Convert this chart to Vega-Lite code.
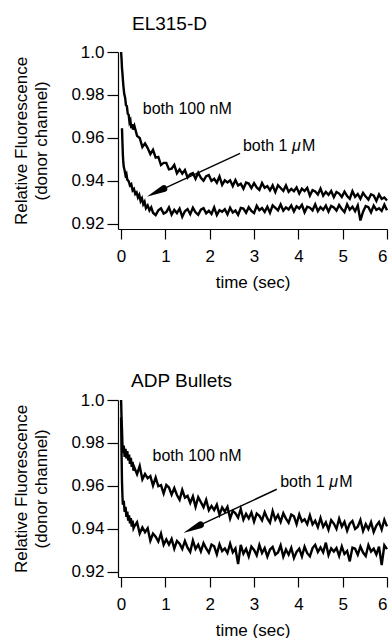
{
  "$schema": "https://vega.github.io/schema/vega-lite/v6.json",
  "padding": {"left": 12, "top": 15, "right": 0, "bottom": 0},
  "background": "white",
  "config": {
    "font": "Liberation Sans",
    "view": {"stroke": null},
    "axis": {"grid": false, "domainColor": "black", "tickColor": "black", "labelColor": "black", "titleColor": "black", "labelFontSize": 17, "titleFontSize": 17, "titleFontWeight": "normal", "domainWidth": 1.2, "tickWidth": 1.2},
    "title": {"fontSize": 19, "fontWeight": "normal", "color": "black", "anchor": "start", "frame": "group"}
  },
  "spacing": 82,
  "datasets": {
    "a_h": [
      {"t":0,"v":1.0},{"t":0.01,"v":0.9968},{"t":0.02,"v":0.9925},{"t":0.03,"v":0.9902},{"t":0.05,"v":0.9846},{"t":0.07,"v":0.9805},{"t":0.09,"v":0.9788},{"t":0.11,"v":0.9752},{"t":0.13,"v":0.9748},{"t":0.15,"v":0.9712},{"t":0.17,"v":0.9708},{"t":0.19,"v":0.9672},{"t":0.21,"v":0.9681},{"t":0.23,"v":0.9645},{"t":0.25,"v":0.9663},{"t":0.27,"v":0.9638},
      {"t":0.30,"v":0.9656},{"t":0.36,"v":0.9609},{"t":0.42,"v":0.9599},{"t":0.48,"v":0.9557},{"t":0.54,"v":0.9574},{"t":0.60,"v":0.9552},{"t":0.66,"v":0.9524},{"t":0.72,"v":0.9544},{"t":0.78,"v":0.9508},{"t":0.84,"v":0.9511},
      {"t":0.90,"v":0.9473},{"t":0.96,"v":0.9483},{"t":1.02,"v":0.9483},{"t":1.08,"v":0.9453},{"t":1.14,"v":0.9456},{"t":1.20,"v":0.9474},{"t":1.26,"v":0.9435},{"t":1.32,"v":0.9453},{"t":1.38,"v":0.9433},{"t":1.44,"v":0.9450},
      {"t":1.50,"v":0.9415},{"t":1.56,"v":0.9430},{"t":1.62,"v":0.9436},{"t":1.68,"v":0.9409},{"t":1.74,"v":0.9437},{"t":1.80,"v":0.9414},{"t":1.86,"v":0.9400},{"t":1.92,"v":0.9421},{"t":1.98,"v":0.9426},{"t":2.04,"v":0.9399},
      {"t":2.10,"v":0.9409},{"t":2.16,"v":0.9391},{"t":2.22,"v":0.9420},{"t":2.28,"v":0.9381},{"t":2.34,"v":0.9402},{"t":2.40,"v":0.9392},{"t":2.46,"v":0.9402},{"t":2.52,"v":0.9375},{"t":2.58,"v":0.9403},{"t":2.64,"v":0.9378},
      {"t":2.70,"v":0.9386},{"t":2.76,"v":0.9363},{"t":2.82,"v":0.9392},{"t":2.88,"v":0.9387},{"t":2.94,"v":0.9366},{"t":3.00,"v":0.9389},{"t":3.06,"v":0.9369},{"t":3.12,"v":0.9357},{"t":3.18,"v":0.9389},{"t":3.24,"v":0.9367},
      {"t":3.30,"v":0.9375},{"t":3.36,"v":0.9355},{"t":3.42,"v":0.9378},{"t":3.48,"v":0.9347},{"t":3.54,"v":0.9379},{"t":3.60,"v":0.9366},{"t":3.66,"v":0.9353},{"t":3.72,"v":0.9378},{"t":3.78,"v":0.9348},{"t":3.84,"v":0.9362},
      {"t":3.90,"v":0.9351},{"t":3.96,"v":0.9369},{"t":4.02,"v":0.9340},{"t":4.08,"v":0.9363},{"t":4.14,"v":0.9352},{"t":4.20,"v":0.9367},{"t":4.26,"v":0.9331},{"t":4.32,"v":0.9356},{"t":4.38,"v":0.9350},{"t":4.44,"v":0.9336},
      {"t":4.50,"v":0.9363},{"t":4.56,"v":0.9330},{"t":4.62,"v":0.9348},{"t":4.68,"v":0.9334},{"t":4.74,"v":0.9352},{"t":4.80,"v":0.9323},{"t":4.86,"v":0.9348},{"t":4.92,"v":0.9340},{"t":4.98,"v":0.9324},{"t":5.04,"v":0.9349},
      {"t":5.10,"v":0.9329},{"t":5.16,"v":0.9316},{"t":5.22,"v":0.9351},{"t":5.28,"v":0.9325},{"t":5.34,"v":0.9338},{"t":5.40,"v":0.9316},{"t":5.46,"v":0.9343},{"t":5.52,"v":0.9326},{"t":5.58,"v":0.9312},{"t":5.64,"v":0.9337},
      {"t":5.70,"v":0.9331},{"t":5.76,"v":0.9306},{"t":5.82,"v":0.9336},{"t":5.88,"v":0.9315},{"t":5.94,"v":0.9322},{"t":6.00,"v":0.9308}
    ],
    "a_l": [
      {"t":0.02,"v":0.9645},{"t":0.03,"v":0.958},{"t":0.04,"v":0.952},{"t":0.05,"v":0.9485},{"t":0.06,"v":0.9465},{"t":0.08,"v":0.9448},{"t":0.10,"v":0.9425},{"t":0.12,"v":0.9432},{"t":0.14,"v":0.9405},{"t":0.17,"v":0.9398},
      {"t":0.20,"v":0.9378},{"t":0.23,"v":0.9384},{"t":0.26,"v":0.9355},{"t":0.29,"v":0.9362},{"t":0.32,"v":0.9338},{"t":0.35,"v":0.9345},{"t":0.38,"v":0.9322},{"t":0.41,"v":0.9334},{"t":0.44,"v":0.9305},{"t":0.47,"v":0.9318},
      {"t":0.50,"v":0.9290},{"t":0.53,"v":0.9302},{"t":0.56,"v":0.9272},{"t":0.60,"v":0.9285},{"t":0.64,"v":0.9262},{"t":0.68,"v":0.9276},{"t":0.72,"v":0.9251},
      {"t":0.78,"v":0.9240},{"t":0.84,"v":0.9262},{"t":0.90,"v":0.9271},{"t":0.96,"v":0.9247},{"t":1.02,"v":0.9254},{"t":1.08,"v":0.9276},{"t":1.14,"v":0.9242},{"t":1.20,"v":0.9264},{"t":1.26,"v":0.9249},{"t":1.32,"v":0.9270},
      {"t":1.38,"v":0.9232},{"t":1.44,"v":0.9258},{"t":1.50,"v":0.9268},{"t":1.56,"v":0.9244},{"t":1.62,"v":0.9274},{"t":1.68,"v":0.9253},{"t":1.74,"v":0.9241},{"t":1.80,"v":0.9265},{"t":1.86,"v":0.9272},{"t":1.92,"v":0.9248},
      {"t":1.98,"v":0.9260},{"t":2.04,"v":0.9245},{"t":2.10,"v":0.9276},{"t":2.16,"v":0.9240},{"t":2.22,"v":0.9263},{"t":2.28,"v":0.9255},{"t":2.34,"v":0.9267},{"t":2.40,"v":0.9243},{"t":2.46,"v":0.9274},{"t":2.52,"v":0.9252},
      {"t":2.58,"v":0.9261},{"t":2.64,"v":0.9241},{"t":2.70,"v":0.9273},{"t":2.76,"v":0.9270},{"t":2.82,"v":0.9251},{"t":2.88,"v":0.9277},{"t":2.94,"v":0.9259},{"t":3.00,"v":0.9249},{"t":3.06,"v":0.9283},{"t":3.12,"v":0.9263},
      {"t":3.18,"v":0.9273},{"t":3.24,"v":0.9255},{"t":3.30,"v":0.9279},{"t":3.36,"v":0.9251},{"t":3.42,"v":0.9285},{"t":3.48,"v":0.9274},{"t":3.54,"v":0.9262},{"t":3.60,"v":0.9289},{"t":3.66,"v":0.9260},{"t":3.72,"v":0.9276},
      {"t":3.78,"v":0.9266},{"t":3.84,"v":0.9285},{"t":3.90,"v":0.9257},{"t":3.96,"v":0.9281},{"t":4.02,"v":0.9271},{"t":4.08,"v":0.9288},{"t":4.14,"v":0.9253},{"t":4.20,"v":0.9279},{"t":4.26,"v":0.9274},{"t":4.32,"v":0.9262},
      {"t":4.38,"v":0.9290},{"t":4.44,"v":0.9258},{"t":4.50,"v":0.9277},{"t":4.56,"v":0.9264},{"t":4.62,"v":0.9284},{"t":4.68,"v":0.9256},{"t":4.74,"v":0.9282},{"t":4.80,"v":0.9275},{"t":4.86,"v":0.9261},{"t":4.92,"v":0.9287},
      {"t":4.98,"v":0.9268},{"t":5.04,"v":0.9254},{"t":5.10,"v":0.9290},{"t":5.16,"v":0.9265},{"t":5.22,"v":0.9279},{"t":5.28,"v":0.9258},{"t":5.34,"v":0.9285},{"t":5.40,"v":0.9215},{"t":5.46,"v":0.9256},{"t":5.52,"v":0.9282},
      {"t":5.58,"v":0.9277},{"t":5.64,"v":0.9253},{"t":5.70,"v":0.9284},{"t":5.76,"v":0.9264},{"t":5.82,"v":0.9272},{"t":5.88,"v":0.9259},{"t":5.94,"v":0.9288},{"t":6.00,"v":0.9262}
    ],
    "b_h": [
      {"t":0,"v":1.0},{"t":0.01,"v":0.9915},{"t":0.02,"v":0.9862},{"t":0.03,"v":0.9795},{"t":0.04,"v":0.9752},{"t":0.06,"v":0.9788},{"t":0.08,"v":0.9735},{"t":0.10,"v":0.9772},{"t":0.12,"v":0.9728},{"t":0.14,"v":0.9762},
      {"t":0.16,"v":0.9718},{"t":0.18,"v":0.9745},{"t":0.20,"v":0.9702},{"t":0.22,"v":0.9730},{"t":0.24,"v":0.9688},{"t":0.26,"v":0.9712},{"t":0.28,"v":0.9671},
      {"t":0.30,"v":0.9685},{"t":0.36,"v":0.9654},{"t":0.42,"v":0.9692},{"t":0.48,"v":0.9630},{"t":0.54,"v":0.9655},{"t":0.60,"v":0.9635},{"t":0.66,"v":0.9645},{"t":0.72,"v":0.9601},{"t":0.78,"v":0.9639},{"t":0.84,"v":0.9598},
      {"t":0.90,"v":0.9603},{"t":0.96,"v":0.9564},{"t":1.02,"v":0.9604},{"t":1.08,"v":0.9592},{"t":1.14,"v":0.9559},{"t":1.20,"v":0.9590},{"t":1.26,"v":0.9557},{"t":1.32,"v":0.9535},{"t":1.38,"v":0.9581},{"t":1.44,"v":0.9545},
      {"t":1.50,"v":0.9553},{"t":1.56,"v":0.9520},{"t":1.62,"v":0.9551},{"t":1.68,"v":0.9502},{"t":1.74,"v":0.9547},{"t":1.80,"v":0.9524},{"t":1.86,"v":0.9500},{"t":1.92,"v":0.9535},{"t":1.98,"v":0.9486},{"t":2.04,"v":0.9506},
      {"t":2.10,"v":0.9487},{"t":2.16,"v":0.9512},{"t":2.22,"v":0.9466},{"t":2.28,"v":0.9499},{"t":2.34,"v":0.9480},{"t":2.40,"v":0.9502},{"t":2.46,"v":0.9447},{"t":2.52,"v":0.9483},{"t":2.58,"v":0.9472},{"t":2.64,"v":0.9452},
      {"t":2.70,"v":0.9492},{"t":2.76,"v":0.9442},{"t":2.82,"v":0.9469},{"t":2.88,"v":0.9448},{"t":2.94,"v":0.9476},{"t":3.00,"v":0.9433},{"t":3.06,"v":0.9471},{"t":3.12,"v":0.9460},{"t":3.18,"v":0.9439},{"t":3.24,"v":0.9477},
      {"t":3.30,"v":0.9448},{"t":3.36,"v":0.9428},{"t":3.42,"v":0.9482},{"t":3.48,"v":0.9443},{"t":3.54,"v":0.9464},{"t":3.60,"v":0.9432},{"t":3.66,"v":0.9472},{"t":3.72,"v":0.9447},{"t":3.78,"v":0.9428},{"t":3.84,"v":0.9466},
      {"t":3.90,"v":0.9458},{"t":3.96,"v":0.9421},{"t":4.02,"v":0.9467},{"t":4.08,"v":0.9434},{"t":4.14,"v":0.9444},{"t":4.20,"v":0.9421},{"t":4.26,"v":0.9462},{"t":4.32,"v":0.9420},{"t":4.38,"v":0.9437},{"t":4.44,"v":0.9407},
      {"t":4.50,"v":0.9450},{"t":4.56,"v":0.9409},{"t":4.62,"v":0.9430},{"t":4.68,"v":0.9395},{"t":4.74,"v":0.9440},{"t":4.80,"v":0.9424},{"t":4.86,"v":0.9399},{"t":4.92,"v":0.9447},{"t":4.98,"v":0.9410},{"t":5.04,"v":0.9432},
      {"t":5.10,"v":0.9391},{"t":5.16,"v":0.9424},{"t":5.22,"v":0.9436},{"t":5.28,"v":0.9399},{"t":5.34,"v":0.9409},{"t":5.40,"v":0.9441},{"t":5.46,"v":0.9389},{"t":5.52,"v":0.9421},{"t":5.58,"v":0.9398},{"t":5.64,"v":0.9431},
      {"t":5.70,"v":0.9385},{"t":5.76,"v":0.9415},{"t":5.82,"v":0.9431},{"t":5.88,"v":0.9396},{"t":5.94,"v":0.9442},{"t":6.00,"v":0.9411}
    ],
    "b_l": [
      {"t":0,"v":0.992},{"t":0.01,"v":0.975},{"t":0.02,"v":0.962},{"t":0.03,"v":0.9555},{"t":0.04,"v":0.9512},{"t":0.06,"v":0.9530},{"t":0.08,"v":0.9478},{"t":0.10,"v":0.9502},{"t":0.12,"v":0.9455},{"t":0.14,"v":0.9480},
      {"t":0.16,"v":0.9438},{"t":0.18,"v":0.9462},{"t":0.20,"v":0.9425},{"t":0.22,"v":0.9450},{"t":0.24,"v":0.9410},{"t":0.26,"v":0.9438},{"t":0.28,"v":0.9402},
      {"t":0.30,"v":0.9411},{"t":0.36,"v":0.9430},{"t":0.42,"v":0.9378},{"t":0.48,"v":0.9406},{"t":0.54,"v":0.9384},{"t":0.60,"v":0.9402},{"t":0.66,"v":0.9344},{"t":0.72,"v":0.9377},{"t":0.78,"v":0.9363},{"t":0.84,"v":0.9340},
      {"t":0.90,"v":0.9377},{"t":0.96,"v":0.9325},{"t":1.02,"v":0.9350},{"t":1.08,"v":0.9326},{"t":1.14,"v":0.9352},{"t":1.20,"v":0.9307},{"t":1.26,"v":0.9343},{"t":1.32,"v":0.9330},{"t":1.38,"v":0.9306},{"t":1.44,"v":0.9343},
      {"t":1.50,"v":0.9312},{"t":1.56,"v":0.9292},{"t":1.62,"v":0.9345},{"t":1.68,"v":0.9306},{"t":1.74,"v":0.9326},{"t":1.80,"v":0.9294},{"t":1.86,"v":0.9333},{"t":1.92,"v":0.9308},{"t":1.98,"v":0.9288},{"t":2.04,"v":0.9326},
      {"t":2.10,"v":0.9318},{"t":2.16,"v":0.9281},{"t":2.22,"v":0.9327},{"t":2.28,"v":0.9296},{"t":2.34,"v":0.9308},{"t":2.40,"v":0.9287},{"t":2.46,"v":0.9330},{"t":2.52,"v":0.9290},{"t":2.58,"v":0.9308},{"t":2.64,"v":0.9235},
      {"t":2.70,"v":0.9325},{"t":2.76,"v":0.9284},{"t":2.82,"v":0.9306},{"t":2.88,"v":0.9271},{"t":2.94,"v":0.9317},{"t":3.00,"v":0.9301},{"t":3.06,"v":0.9276},{"t":3.12,"v":0.9324},{"t":3.18,"v":0.9287},{"t":3.24,"v":0.9310},
      {"t":3.30,"v":0.9270},{"t":3.36,"v":0.9303},{"t":3.42,"v":0.9315},{"t":3.48,"v":0.9279},{"t":3.54,"v":0.9289},{"t":3.60,"v":0.9322},{"t":3.66,"v":0.9270},{"t":3.72,"v":0.9303},{"t":3.78,"v":0.9279},{"t":3.84,"v":0.9311},
      {"t":3.90,"v":0.9263},{"t":3.96,"v":0.9292},{"t":4.02,"v":0.9307},{"t":4.08,"v":0.9271},{"t":4.14,"v":0.9316},{"t":4.20,"v":0.9286},{"t":4.26,"v":0.9271},{"t":4.32,"v":0.9310},{"t":4.38,"v":0.9325},{"t":4.44,"v":0.9292},
      {"t":4.50,"v":0.9313},{"t":4.56,"v":0.9290},{"t":4.62,"v":0.9335},{"t":4.68,"v":0.9277},{"t":4.74,"v":0.9309},{"t":4.80,"v":0.9294},{"t":4.86,"v":0.9310},{"t":4.92,"v":0.9273},{"t":4.98,"v":0.9317},{"t":5.04,"v":0.9282},
      {"t":5.10,"v":0.9296},{"t":5.16,"v":0.9248},{"t":5.22,"v":0.9312},{"t":5.28,"v":0.9307},{"t":5.34,"v":0.9279},{"t":5.40,"v":0.9317},{"t":5.46,"v":0.9289},{"t":5.52,"v":0.9273},{"t":5.58,"v":0.9324},{"t":5.64,"v":0.9294},
      {"t":5.70,"v":0.9307},{"t":5.76,"v":0.9280},{"t":5.82,"v":0.9316},{"t":5.88,"v":0.9230},{"t":5.94,"v":0.9323},{"t":6.00,"v":0.9305}
    ]
  },
  "vconcat": [
    {
      "width": 269,
      "height": 177,
      "title": {"text": "EL315-D", "dx": 14, "offset": 9},
      "encoding": {
        "x": {"field": "t", "type": "quantitative", "scale": {"domain": [-0.07, 6], "nice": false, "zero": false},
              "axis": {"values": [0,1,2,3,4,5,6], "title": "time (sec)", "tickSize": 10, "labelPadding": 9, "titlePadding": 10}},
        "y": {"field": "v", "type": "quantitative", "scale": {"domain": [0.9175, 1.0], "nice": false, "zero": false},
              "axis": {"values": [0.92,0.94,0.96,0.98,1.0], "labelExpr": "datum.value == 1 ? '1.0' : format(datum.value, '.2f')", "title": ["Relative Fluorescence", "(donor channel)"], "tickSize": 11, "labelPadding": 3, "titlePadding": 20, "titleLineHeight": 20}}
      },
      "layer": [
        {"data": {"name": "a_h"}, "mark": {"type": "line", "color": "black", "strokeWidth": 2.4}},
        {"data": {"name": "a_l"}, "mark": {"type": "line", "color": "black", "strokeWidth": 2.4}},
        {"data": {"values": [{"t": 0.49, "v": 0.9732, "s": "both 100 nM"}, {"t": 2.75, "v": 0.9562, "s": "both 1"}]},
         "mark": {"type": "text", "align": "left", "baseline": "middle", "fontSize": 16, "color": "black"}, "encoding": {"text": {"field": "s"}}},
        {"data": {"values": [{"t": 2.75, "v": 0.9562, "s": "μ"}]},
         "mark": {"type": "text", "align": "left", "baseline": "middle", "fontSize": 16, "color": "black", "fontStyle": "italic", "dx": 49}, "encoding": {"text": {"field": "s"}}},
        {"data": {"values": [{"t": 2.75, "v": 0.9562, "s": "M"}]},
         "mark": {"type": "text", "align": "left", "baseline": "middle", "fontSize": 16, "color": "black", "dx": 59}, "encoding": {"text": {"field": "s"}}},
        {"data": {"values": [{"t": 2.685, "v": 0.9527, "t2": 0.963, "v2": 0.9363}]},
         "mark": {"type": "rule", "color": "black", "strokeWidth": 1.4},
         "encoding": {"x2": {"field": "t2"}, "y2": {"field": "v2"}}},
        {"data": {"values": [{"t": 0.963, "v": 0.9363, "w": 7}, {"t": 0.596, "v": 0.9327, "w": 0.3}]},
         "mark": {"type": "trail", "color": "black"},
         "encoding": {"size": {"field": "w", "type": "quantitative", "scale": null}, "order": {"field": "w"}}}
      ]
    },
    {
      "width": 269,
      "height": 177,
      "title": {"text": "ADP Bullets", "dx": 13, "offset": 0},
      "encoding": {
        "x": {"field": "t", "type": "quantitative", "scale": {"domain": [-0.07, 6], "nice": false, "zero": false},
              "axis": {"values": [0,1,2,3,4,5,6], "title": "time (sec)", "tickSize": 10, "labelPadding": 9, "titlePadding": 10}},
        "y": {"field": "v", "type": "quantitative", "scale": {"domain": [0.9175, 1.0], "nice": false, "zero": false},
              "axis": {"values": [0.92,0.94,0.96,0.98,1.0], "labelExpr": "datum.value == 1 ? '1.0' : format(datum.value, '.2f')", "title": ["Relative Fluorescence", "(donor channel)"], "tickSize": 11, "labelPadding": 3, "titlePadding": 20, "titleLineHeight": 20}}
      },
      "layer": [
        {"data": {"name": "b_h"}, "mark": {"type": "line", "color": "black", "strokeWidth": 2.4}},
        {"data": {"name": "b_l"}, "mark": {"type": "line", "color": "black", "strokeWidth": 2.4}},
        {"data": {"values": [{"t": 0.71, "v": 0.9741, "s": "both 100 nM"}, {"t": 3.59, "v": 0.9618, "s": "both 1"}]},
         "mark": {"type": "text", "align": "left", "baseline": "middle", "fontSize": 16, "color": "black"}, "encoding": {"text": {"field": "s"}}},
        {"data": {"values": [{"t": 3.59, "v": 0.9618, "s": "μ"}]},
         "mark": {"type": "text", "align": "left", "baseline": "middle", "fontSize": 16, "color": "black", "fontStyle": "italic", "dx": 49}, "encoding": {"text": {"field": "s"}}},
        {"data": {"values": [{"t": 3.59, "v": 0.9618, "s": "M"}]},
         "mark": {"type": "text", "align": "left", "baseline": "middle", "fontSize": 16, "color": "black", "dx": 59}, "encoding": {"text": {"field": "s"}}},
        {"data": {"values": [{"t": 3.513, "v": 0.9584, "t2": 1.789, "v2": 0.9418}]},
         "mark": {"type": "rule", "color": "black", "strokeWidth": 1.4},
         "encoding": {"x2": {"field": "t2"}, "y2": {"field": "v2"}}},
        {"data": {"values": [{"t": 1.789, "v": 0.9418, "w": 7}, {"t": 1.421, "v": 0.9382, "w": 0.3}]},
         "mark": {"type": "trail", "color": "black"},
         "encoding": {"size": {"field": "w", "type": "quantitative", "scale": null}, "order": {"field": "w"}}}
      ]
    }
  ]
}
